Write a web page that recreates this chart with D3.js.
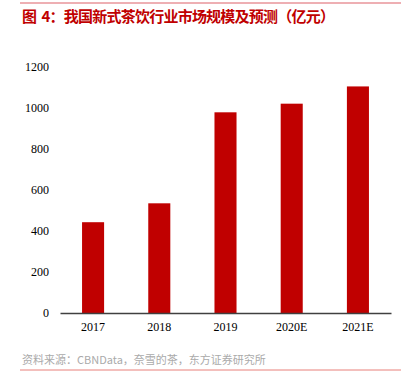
<!DOCTYPE html>
<html>
<head>
<meta charset="utf-8">
<script src="https://cdn.jsdelivr.net/npm/d3@7"></script>
<style>
  body { margin: 0; background: #fff; }
  svg { display: block; }
</style>
</head>
<body>
<svg width="417" height="383"></svg>
<script>
// data
var years = ["2017", "2018", "2019", "2020E", "2021E"];
var sizes = [442, 534, 977, 1019, 1103];
var yTicks = [0, 200, 400, 600, 800, 1000, 1200];

var titleText = "图  4：我国新式茶饮行业市场规模及预测（亿元）";
var sourceText = "资料来源：CBNData，奈雪的茶，东方证券研究所";

var svg = d3.select("svg"),
    plotLeft = 60, plotRight = 391, plotTop = 66.5, plotBottom = 313;

// header / footer rules
svg.append("line").attr("x1", 20).attr("x2", 401).attr("y1", 3).attr("y2", 3)
    .attr("stroke", "#e8959a").attr("stroke-width", 1.5);
svg.append("line").attr("x1", 20).attr("x2", 401).attr("y1", 370).attr("y2", 370)
    .attr("stroke", "#e8807a").attr("stroke-width", 1);

var title = svg.append("text")
    .attr("x", 22).attr("y", 21.5)
    .attr("fill", "#c00000")
    .attr("xml:space", "preserve")
    .style("white-space", "pre")
    .style("font-family", "'Noto Sans CJK SC', sans-serif")
    .style("font-size", "15px")
    .style("font-weight", "bold")
    .text(titleText);
// stretch title to the width it has in the original
title.attr("textLength", 313).attr("lengthAdjust", "spacing");

svg.append("text")
    .attr("x", 22).attr("y", 364)
    .attr("fill", "#aaaaaa")
    .style("font-family", "'Noto Sans CJK SC', sans-serif")
    .style("font-size", "11px")
    .text(sourceText);

var x = d3.scaleBand().domain(years).range([plotLeft, plotRight]).paddingInner(0.667).paddingOuter(0.333);
var y = d3.scaleLinear().domain([0, 1200]).range([plotBottom, plotTop]);

// y axis: labels only
var yAxis = svg.append("g")
    .attr("transform", "translate(" + (plotLeft - 4) + ",0)")
    .call(d3.axisLeft(y).tickValues(yTicks).tickSize(0).tickPadding(7).tickFormat(d3.format("d")));
yAxis.select(".domain").remove();
yAxis.selectAll("text")
    .attr("fill", "#000")
    .style("font-family", "'Liberation Serif', 'Times New Roman', serif")
    .style("font-size", "12px");

svg.append("g").selectAll("rect")
    .data(sizes)
    .enter().append("rect")
    .attr("x", function(d, i) { return x(years[i]); })
    .attr("y", function(d) { return y(d); })
    .attr("width", x.bandwidth())
    .attr("height", function(d) { return plotBottom - y(d); })
    .attr("fill", "#c00000");

// x axis
var xAxis = svg.append("g")
    .attr("transform", "translate(0," + plotBottom + ")")
    .call(d3.axisBottom(x).tickSize(0).tickPadding(9));
xAxis.select(".domain").attr("stroke", "#404040").attr("stroke-width", 1.5);
xAxis.selectAll("text")
    .attr("fill", "#000")
    .style("font-family", "'Liberation Serif', 'Times New Roman', serif")
    .style("font-size", "12px");
</script>
</body>
</html>
